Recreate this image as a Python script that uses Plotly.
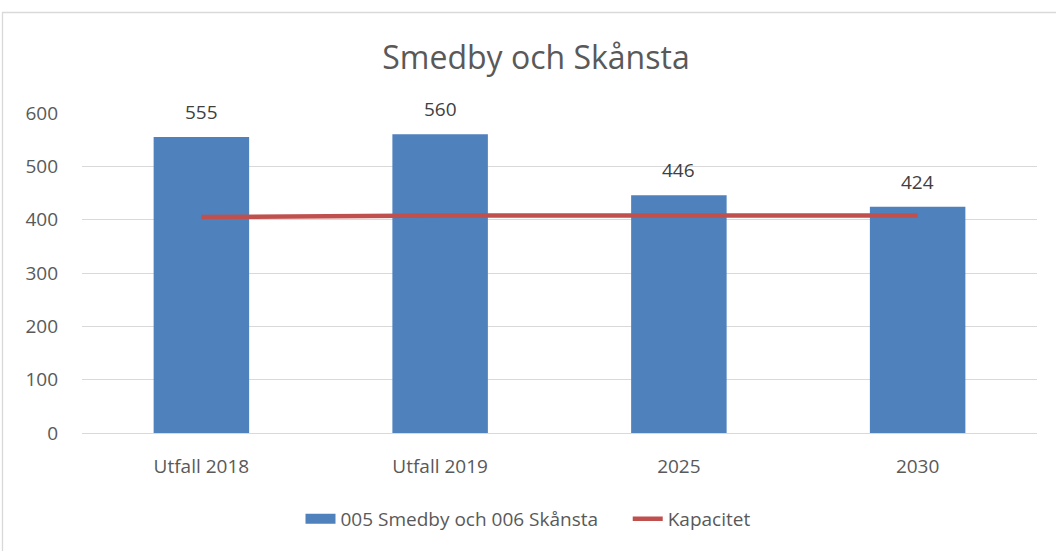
import plotly.graph_objects as go

categories = ["Utfall 2018", "Utfall 2019", "2025", "2030"]
bar_values = [555, 560, 446, 424]
capacity = [405, 408, 408, 408]
bar_name = "005 Smedby och 006 Skånsta"
line_name = "Kapacitet"
title = "Smedby och Skånsta"
y_ticks = [0, 100, 200, 300, 400, 500, 600]

W, H = 1056, 551
L, R, T, B = 82, 19, 113, 118
pw, ph = W - L - R, H - T - B

font = "Open Sans, Segoe UI, sans-serif"
txt = "#595959"

fig = go.Figure()
fig.add_trace(go.Bar(
    x=categories, y=bar_values, name=bar_name,
    marker=dict(color="#4F81BD", line=dict(width=0)),
    width=0.4, showlegend=False,
))
fig.add_trace(go.Scatter(
    x=[None], y=[None], name=bar_name + "\u00a0" * 5, mode="lines",
    line=dict(color="#4F81BD", width=11),
))
fig.add_trace(go.Scatter(
    x=categories, y=capacity, name=line_name, mode="lines",
    line=dict(color="#C0504D", width=4.5),
))

# data labels: category index positions on the category axis
for i, v in enumerate(bar_values):
    fig.add_annotation(x=i, y=v, text=str(v), showarrow=False, yshift=25,
                       yanchor="middle", font=dict(size=19, color="#404040", family=font))

def px_x(p):
    return (p - L) / pw

def px_y(p):
    return (H - B - p) / ph

fig.add_shape(type="rect", xref="paper", yref="paper",
              x0=px_x(2.5), x1=px_x(1070), y0=px_y(570), y1=px_y(12.5),
              line=dict(color="#D9D9D9", width=1.3), fillcolor="rgba(0,0,0,0)", layer="below")

fig.update_layout(
    width=W, height=H,
    margin=dict(l=L, r=R, t=T, b=B),
    paper_bgcolor="white", plot_bgcolor="white",
    title=dict(text=title, x=px_x(536), xanchor="center", xref="paper",
               y=1 - 58 / H, yanchor="middle",
               font=dict(size=32, color=txt, family=font)),
    font=dict(family=font, color=txt, size=19),
    showlegend=True,
    legend=dict(orientation="h", x=px_x(528), xanchor="center", y=px_y(519), yanchor="middle",
                font=dict(size=19, color=txt, family=font)),
    xaxis=dict(type="category", categoryorder="array", categoryarray=categories,
               range=[-0.5, len(categories) - 0.5], autorange=False,
               showgrid=False, showline=True, linecolor="#D9D9D9", linewidth=1,
               ticks="", tickfont=dict(size=19, color=txt), ticklabelstandoff=16),
    yaxis=dict(range=[0, 600], autorange=False, tickvals=y_ticks, showgrid=True,
               gridcolor="#D9D9D9", gridwidth=1, zeroline=False, showline=False, ticks="",
               tickfont=dict(size=19, color=txt), ticklabelstandoff=23),
)

fig.write_html("out.html", config={"displayModeBar": False},
               post_script="document.body.style.margin='0';document.body.style.overflow='hidden';")
